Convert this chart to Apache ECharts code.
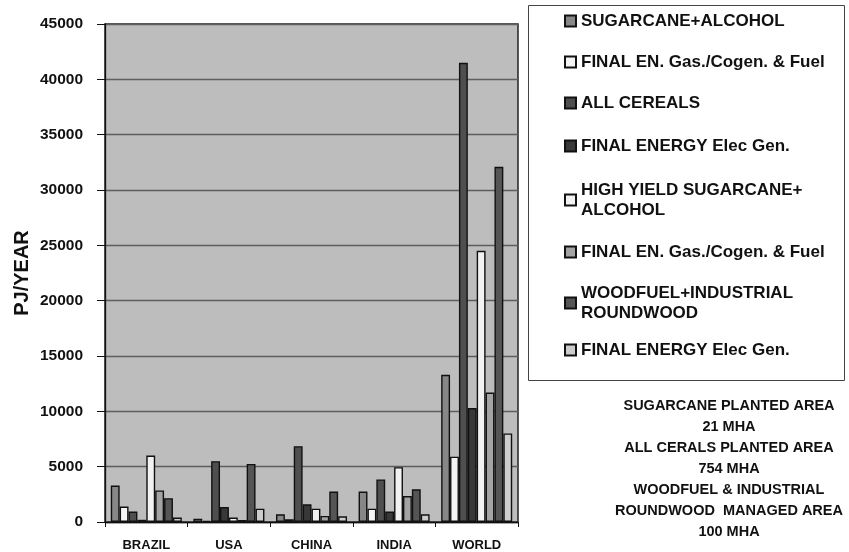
<!DOCTYPE html>
<html>
<head>
<meta charset="utf-8">
<script src="https://cdn.jsdelivr.net/npm/echarts@6/dist/echarts.min.js"></script>
<style>
  html, body { margin: 0; padding: 0; background: #ffffff; }
  #chart { width: 849px; height: 552px; }
</style>
</head>
<body>
<div id="chart"></div>
<script>
// Regions on the category axis
const regions = ['BRAZIL', 'USA', 'CHINA', 'INDIA', 'WORLD'];

// Energy potential per region, PJ/year
const sugarcaneAlcohol      = [3300, 300, 700, 2750, 13300];
const finalEnGasCogen       = [1400, 120, 250, 1200, 5900];
const allCereals            = [950, 5500, 6850, 3850, 41500];
const finalEnergyElecGen    = [200, 1350, 1600, 950, 10300];
const highYieldSugarcane    = [6000, 400, 1200, 4950, 24500];
const finalEnGasCogenHY     = [2850, 180, 550, 2350, 11700];
const woodfuelRoundwood     = [2150, 5250, 2750, 2950, 32100];
const finalEnergyElecGenWR  = [400, 1200, 520, 700, 8000];

// Value axis ticks
const yTicks = [0, 5000, 10000, 15000, 20000, 25000, 30000, 35000, 40000, 45000];

// Legend entries, in series order
const legendLabels = [
  'SUGARCANE+ALCOHOL',
  'FINAL EN. Gas./Cogen. & Fuel',
  'ALL CEREALS',
  'FINAL ENERGY Elec Gen.',
  'HIGH YIELD SUGARCANE+\nALCOHOL',
  'FINAL EN. Gas./Cogen. & Fuel',
  'WOODFUEL+INDUSTRIAL\nROUNDWOOD',
  'FINAL ENERGY Elec Gen.'
];

// Planted / managed area notes
const areaNotes = [
  'SUGARCANE PLANTED AREA',
  '21 MHA',
  'ALL CERALS PLANTED AREA',
  '754 MHA',
  'WOODFUEL & INDUSTRIAL',
  'ROUNDWOOD  MANAGED AREA',
  '100 MHA'
];

const seriesKeys = ['s1', 's2', 's3', 's4', 's5', 's6', 's7', 's8'];
const seriesData = [sugarcaneAlcohol, finalEnGasCogen, allCereals, finalEnergyElecGen,
                    highYieldSugarcane, finalEnGasCogenHY, woodfuelRoundwood, finalEnergyElecGenWR];
const fills = ['#878787', '#f4f4f4', '#4f4f4f', '#383838', '#f2f2f2', '#a3a3a3', '#555555', '#cdcdcd'];

const FONT = '"Liberation Sans", Arial, sans-serif';

const series = seriesKeys.map((k, i) => ({
  name: k,
  type: 'bar',
  data: seriesData[i],
  barGap: '0%',
  barCategoryGap: '14%',
  itemStyle: { color: fills[i], borderColor: '#111', borderWidth: 1.4 },
  emphasis: { disabled: true },
  animation: false
}));

// Vertical centres of each legend row
const legendRowCenters = [21, 62, 103, 146, 200, 252, 303, 350];
const legends = seriesKeys.map((k, i) => {
  const twoLines = legendLabels[i].indexOf('\n') >= 0;
  return {
    data: [k],
    left: 564,
    top: legendRowCenters[i] - (twoLines ? 20 : 10),
    orient: 'vertical',
    icon: 'rect',
    itemWidth: 11,
    itemHeight: 11,
    itemGap: 0,
    selectedMode: false,
    padding: 0,
    formatter: () => legendLabels[i],
    textStyle: { fontFamily: FONT, fontWeight: 'bold', fontSize: 17, color: '#111', lineHeight: 20, padding: [0, 0, 0, 0] }
  };
});

const chart = echarts.init(document.getElementById('chart'), null, { renderer: 'canvas' });
chart.setOption({
  animation: false,
  backgroundColor: '#ffffff',
  grid: {
    left: 105, right: 331, top: 24, bottom: 30,
    show: true, backgroundColor: '#bdbdbd', borderColor: '#222', borderWidth: 1.5
  },
  legend: legends,
  xAxis: {
    type: 'category',
    data: regions,
    axisLine: { show: true, lineStyle: { color: '#111', width: 1.3 } },
    axisTick: { show: true, length: 5, lineStyle: { color: '#111' } },
    axisLabel: { fontFamily: FONT, fontWeight: 'bold', fontSize: 13, color: '#111', margin: 17 },
    splitLine: { show: false }
  },
  yAxis: {
    type: 'value',
    min: yTicks[0],
    max: yTicks[yTicks.length - 1],
    interval: yTicks[1] - yTicks[0],
    name: 'PJ/YEAR',
    nameLocation: 'middle',
    nameGap: 73,
    nameRotate: 90,
    nameTextStyle: { fontFamily: FONT, fontWeight: 'bold', fontSize: 20, color: '#111' },
    axisLine: { show: true, lineStyle: { color: '#111', width: 1.3 } },
    axisTick: { show: true, inside: false, length: 8, lineStyle: { color: '#111' } },
    axisLabel: {
      fontFamily: FONT, fontWeight: 'bold', fontSize: 15.5, color: '#111', margin: 22,
      formatter: (v) => String(v)
    },
    splitLine: { show: true, lineStyle: { color: '#5e5e5e', width: 1.4 } }
  },
  series: series,
  graphic: [
    {
      type: 'rect',
      shape: { x: 528.5, y: 5.5, width: 316, height: 375 },
      style: { fill: 'none', stroke: '#444', lineWidth: 1 },
      z: 0
    },
    {
      type: 'text',
      x: 729,
      y: 395,
      style: {
        text: areaNotes.join('\n'),
        textAlign: 'center',
        font: 'bold 14.5px ' + FONT,
        lineHeight: 21,
        fill: '#111'
      }
    }
  ]
});
</script>
</body>
</html>
